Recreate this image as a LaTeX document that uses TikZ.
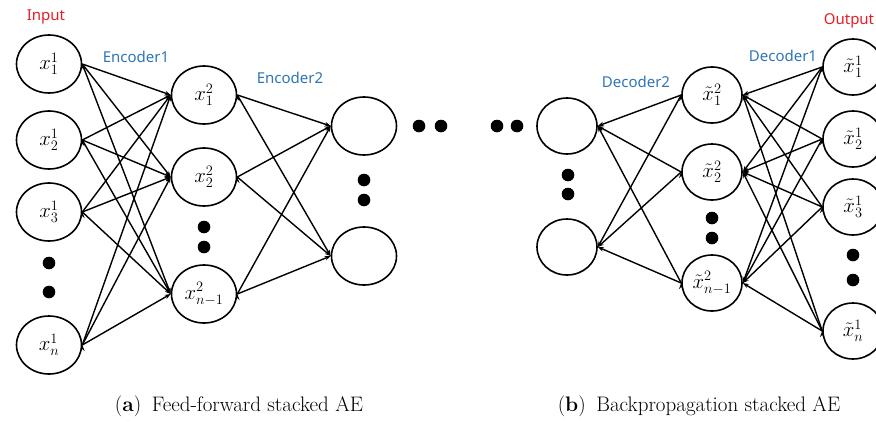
\documentclass[tikz,border=0pt]{standalone}
\usepackage{fontspec}
\usetikzlibrary{shapes.geometric,arrows.meta}
\newfontfamily\labelfont{Noto Sans}
\definecolor{inred}{RGB}{232,28,36}
\definecolor{encblue}{RGB}{46,117,182}
\begin{document}
\begin{tikzpicture}
[x = 1pt, y = -1pt,
>={Stealth[length=6pt,width=4.5pt]},
neuron/.style = {draw, ellipse, line width = 1.6pt, inner sep = 0pt, minimum width = 65pt, minimum height = 58pt, font = \fontsize{22}{26}\selectfont},
dneuron/.style = {neuron, minimum width = 60pt, minimum height = 56pt},
wire/.style = {->, line width = 1.4pt},
layername/.style = {font = \labelfont\fontsize{15}{17}\selectfont, text = encblue},
ioname/.style = {layername, text = inred},
subcap/.style = {anchor = base, font = \fontsize{21}{24}\selectfont},
]
\useasboundingbox (0,0) rectangle (876,421);
\node [neuron] (i1) at (49,64) {$x_1^1$};
\node [neuron] (i2) at (49,140) {$x_2^1$};
\node [neuron] (i3) at (49,212) {$x_3^1$};
\node [neuron] (i4) at (49,345) {$x_n^1$};
\node [neuron] (h1) at (204,95) {$x_1^2$};
\node [neuron] (h2) at (204,177) {$x_2^2$};
\node [neuron] (h3) at (204,294) {$x_{n-1}^2$};
\node [neuron] (e1) at (364,126) {};
\node [neuron] (e2) at (364,256) {};
\node [dneuron] (d1) at (567,126) {};
\node [dneuron] (d2) at (567,247) {};
\node [dneuron] (g1) at (712,95) {$\tilde{x}_1^2$};
\node [dneuron] (g2) at (712,172) {$\tilde{x}_2^2$};
\node [dneuron] (g3) at (712,283) {$\tilde{x}_{n-1}^2$};
\node [dneuron] (o1) at (853,67) {$\tilde{x}_1^1$};
\node [dneuron] (o2) at (853,139) {$\tilde{x}_2^1$};
\node [dneuron] (o3) at (853,207) {$\tilde{x}_3^1$};
\node [dneuron] (o4) at (853,331) {$\tilde{x}_n^1$};
\fill (49,263) circle [radius=6.3pt] (49,292) circle [radius=6.3pt];
\fill (204,227) circle [radius=6.3pt] (204,247) circle [radius=6.3pt];
\fill (364,180) circle [radius=6.3pt] (364,200) circle [radius=6.3pt];
\fill (419,126) circle [radius=6.3pt] (441,126) circle [radius=6.3pt];
\fill (497,126) circle [radius=6.3pt] (517,126) circle [radius=6.3pt];
\fill (568,175) circle [radius=6.3pt] (568,194) circle [radius=6.3pt];
\fill (712,218) circle [radius=6.3pt] (712,238) circle [radius=6.3pt];
\fill (853,255) circle [radius=6.3pt] (853,280) circle [radius=6.3pt];
\draw [wire] (i1.east) edge (h1.west) edge (h2.west) edge (h3.west);
\draw [wire] (i2.east) edge (h1.west) edge (h2.west) edge (h3.west);
\draw [wire] (i3.east) edge (h1.west) edge (h2.west) edge (h3.west);
\draw [wire] (i4.east) edge (h1.west) edge (h2.west) edge (h3.west);
\draw [wire] (h1.east) edge (e1.west) edge (e2.west);
\draw [wire] (h2.east) edge (e1.west) edge (e2.west);
\draw [wire] (h3.east) edge (e1.west) edge (e2.west);
\draw [wire] (o1.west) edge (g1.east) edge (g2.east) edge (g3.east);
\draw [wire] (o2.west) edge (g1.east) edge (g2.east) edge (g3.east);
\draw [wire] (o3.west) edge (g1.east) edge (g2.east) edge (g3.east);
\draw [wire] (o4.west) edge (g1.east) edge (g2.east) edge (g3.east);
\draw [wire] (g1.west) edge (d1.east) edge (d2.east);
\draw [wire] (g2.west) edge (d1.east) edge (d2.east);
\draw [wire] (g3.west) edge (d1.east) edge (d2.east);
\node [ioname] (inlabel) at (46,17) {Input};
\node [layername] (enc1) at (136,57) {Encoder1};
\node [layername] (enc2) at (290,78) {Encoder2};
\node [layername] (dec2) at (636,82) {Decoder2};
\node [layername] (dec1) at (783,56) {Decoder1};
\node [ioname] (outlabel) at (849,21) {Output};
\node [subcap] (capa) at (239,411) {(\textbf{a})\enspace Feed-forward stacked AE};
\node [subcap] (capb) at (699,411) {(\textbf{b})\enspace Backpropagation stacked AE};
\end{tikzpicture}
\end{document}
